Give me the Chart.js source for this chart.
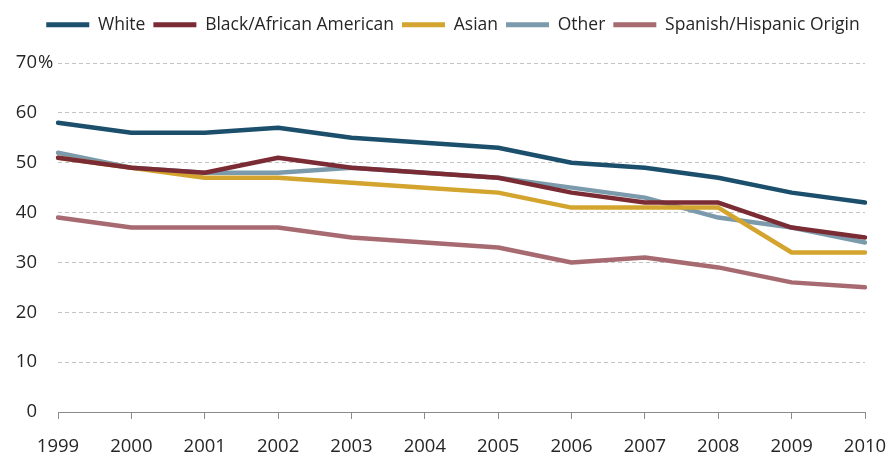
<!DOCTYPE html>
<html lang="en">
<head>
    <meta charset="UTF-8">
    <title>Share by group, 1999-2010</title>
    <script src="https://cdn.jsdelivr.net/npm/chart.js@4.4.1/dist/chart.umd.min.js"></script>
    <style>
        html, body { margin: 0; padding: 0; background: #fff; overflow: hidden; }
        #wrap { width: 892px; height: 456px; }
    </style>
</head>
<body>
<div id="wrap">
    <canvas id="lineChart"></canvas>
</div>
<script>
    const years = ['1999', '2000', '2001', '2002', '2003', '2004', '2005', '2006', '2007', '2008', '2009', '2010'];
    const white = [58, 56, 56, 57, 55, 54, 53, 50, 49, 47, 44, 42];
    const black = [51, 49, 48, 51, 49, 48, 47, 44, 42, 42, 37, 35];
    const asian = [51, 49, 47, 47, 46, 45, 44, 41, 41, 41, 32, 32];
    const other = [52, 49, 48, 48, 49, 48, 47, 45, 43, 39, 37, 34];
    const hispanic = [39, 37, 37, 37, 35, 34, 33, 30, 31, 29, 26, 25];
    const yTicks = [0, 10, 20, 30, 40, 50, 60, 70];

    const fontFamily = "'Open Sans', sans-serif";
    const textColor = '#262626';

    function series(label, data, color) {
        return {
            label: label,
            data: data,
            borderColor: color,
            backgroundColor: color,
            borderWidth: 4.5,
            borderJoinStyle: 'round',
            borderCapStyle: 'round',
            pointRadius: 0,
            pointHoverRadius: 0,
            tension: 0,
            fill: false
        };
    }

    // legend sits in a taller box so the plot starts lower
    const legendSpace = {
        id: 'legendSpace',
        beforeInit(chart) {
            const fit = chart.legend.fit;
            chart.legend.fit = function () {
                fit.bind(chart.legend)();
                this.height = 55;
            };
        }
    };

    // the "%" after the top label hangs out past the other numbers
    const percentSign = {
        id: 'percentSign',
        afterDraw(chart) {
            const y = chart.scales.y;
            const ctx = chart.ctx;
            ctx.save();
            ctx.font = '18.5px ' + fontFamily;
            ctx.fillStyle = textColor;
            ctx.textAlign = 'left';
            ctx.textBaseline = 'middle';
            ctx.fillText('%', y.right - 21 + 1, y.getPixelForValue(70));
            ctx.restore();
        }
    };

    let ctxL = document.getElementById('lineChart').getContext('2d');
    let myLineChart = new Chart(ctxL, {
        type: 'line',
        data: {
            labels: years,
            datasets: [
                series('White', white, '#1b4f6c'),
                series('Black/African American', black, '#7a2b34'),
                series('Asian', asian, '#d3a42e'),
                series('Other', other, '#7b9aab'),
                series('Spanish/Hispanic Origin', hispanic, '#a76a71')
            ]
        },
        options: {
            responsive: true,
            maintainAspectRatio: false,
            animation: false,
            layout: {
                padding: {top: 8, right: 0, bottom: 0, left: 14}
            },
            scales: {
                x: {
                    type: 'category',
                    offset: false,
                    grid: {
                        offset: false,
                        drawOnChartArea: false,
                        drawTicks: true,
                        tickLength: 7,
                        color: '#8a8a8a'
                    },
                    border: {display: true, color: '#8a8a8a', width: 1},
                    ticks: {
                        color: textColor,
                        font: {family: fontFamily, size: 18.5},
                        padding: 17,
                        maxRotation: 0,
                        autoSkip: false
                    },
                    afterFit(scale) {
                        scale.height = 44;
                        scale.paddingRight = 27;
                        scale.paddingLeft = 27;
                    }
                },
                y: {
                    min: 0,
                    max: 70,
                    afterBuildTicks(scale) {
                        scale.ticks = yTicks.map(v => ({value: v}));
                    },
                    grid: {
                        drawTicks: false,
                        color: ctx => ctx.tick && ctx.tick.value === 0 ? 'rgba(0,0,0,0)' : '#c4c4c4',
                        lineWidth: 1
                    },
                    border: {display: false, dash: [4, 3]},
                    ticks: {
                        color: textColor,
                        font: {family: fontFamily, size: 18.5},
                        padding: 21
                    },
                    afterFit(scale) {
                        scale.width = 44;
                    }
                }
            },
            plugins: {
                legend: {
                    display: true,
                    position: 'top',
                    labels: {
                        color: textColor,
                        font: {family: fontFamily, size: 17.5},
                        boxWidth: 43,
                        boxHeight: 5,
                        padding: 8,
                        generateLabels(chart) {
                            const items = Chart.defaults.plugins.legend.labels.generateLabels(chart);
                            items.forEach(it => { it.lineWidth = 0; });
                            return items;
                        }
                    }
                },
                tooltip: {enabled: false},
                title: {display: false}
            }
        },
        plugins: [legendSpace, percentSign]
    });
</script>
</body>
</html>
